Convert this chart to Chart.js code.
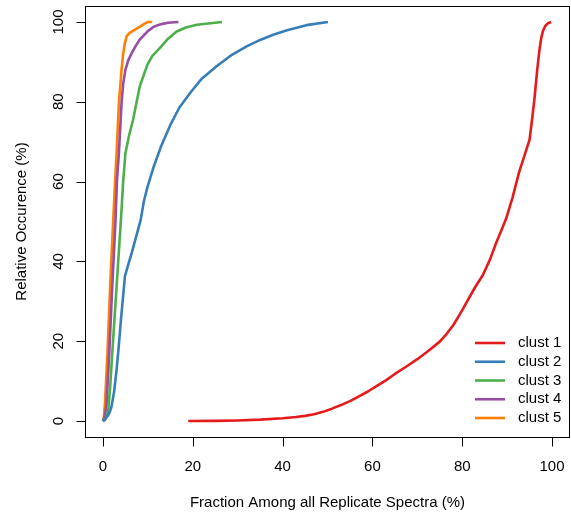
<!DOCTYPE html>
<html>
<head>
<meta charset="utf-8">
<script src="https://cdn.jsdelivr.net/npm/chart.js@4"></script>
<style>
  body { margin: 0; background: #fff; }
  #wrap { width: 571px; height: 519px; }
</style>
</head>
<body>
<div id="wrap"><canvas id="grafico" width="571" height="519"></canvas></div>
<script>
// cumulative curves, x = fraction (%), y = relative occurence (%)
const clust1X = [19, 25, 30, 35, 40, 43, 45, 47, 49, 51, 53, 55, 57, 59, 61, 63, 65, 67.5, 70, 72.5, 75, 76.5, 78, 79.5, 81, 82.8, 84.6, 86.2, 87.5, 88.8, 89.8, 91.2, 92.7, 94, 95, 95.6, 96.1, 96.7, 97.2, 97.6, 98, 98.5, 99.1, 99.8];
const clust1Y = [0, 0.05, 0.15, 0.35, 0.7, 1.0, 1.3, 1.7, 2.3, 3.1, 4, 5, 6.2, 7.4, 8.8, 10.2, 11.8, 13.6, 15.5, 17.6, 19.9, 21.8, 24, 26.8, 29.8, 33.4, 36.6, 40.5, 44.5, 48, 50.8, 56, 62.5, 67, 70.5, 76, 80.9, 88, 93, 96, 97.8, 99, 99.7, 100];

const clust2X = [0, 0.4, 1.0, 1.5, 1.9, 2.5, 3.03, 3.5, 4.0, 4.5, 4.9, 6.5, 8.4, 9.1, 9.9, 11.2, 13, 15, 17, 19.4, 22, 25.3, 28.5, 32, 35, 37.9, 41, 45.3, 50.1];
const clust2Y = [0, 0.3, 1.2, 2.2, 3.6, 7.5, 12.8, 18.5, 25.3, 31.5, 36.4, 42.5, 50.4, 55, 58.6, 63.4, 69, 74.2, 78.5, 82.2, 85.8, 88.9, 91.6, 93.9, 95.5, 96.8, 97.9, 99.2, 100];

const clust3X = [0, 0.5, 0.8, 1.18, 1.6, 2.07, 3.03, 4.0, 4.5, 5.0, 5.8, 6.7, 8.2, 9.9, 11, 12.7, 14.5, 16.4, 18.5, 20.9, 26.5];
const clust3Y = [0, 0.4, 1.2, 2.76, 8.5, 17, 33.7, 50.4, 60, 67.1, 71.5, 75.5, 83.9, 89.3, 91.5, 93.5, 95.8, 97.6, 98.6, 99.3, 100];

const clust4X = [0, 0.3, 0.55, 0.8, 1.4, 2.07, 2.8, 3.1, 3.55, 4.14, 4.5, 5.0, 5.6, 6.4, 7.3, 8.2, 10, 11.3, 12.7, 14.5, 16.8];
const clust4Y = [0, 0.8, 2, 4.4, 17, 33.7, 50.4, 60, 67.1, 79.7, 84.5, 88, 90.3, 92.2, 94, 95.6, 97.7, 98.8, 99.4, 99.8, 100];

const clust5X = [0, 0.2, 0.44, 1.0, 1.6, 2.29, 2.7, 3.03, 3.55, 4.14, 4.5, 4.88, 5.3, 6, 7.8, 9.3, 10, 10.9];
const clust5Y = [0, 0.8, 4.4, 17, 33.7, 50.4, 60, 67.1, 79.7, 88, 92, 94.7, 96.5, 97.3, 98.5, 99.6, 100, 100];

const etiquetas = ['clust 1', 'clust 2', 'clust 3', 'clust 4', 'clust 5'];
const colores = ['#E41A1C', '#377EB8', '#4DAF4A', '#984EA3', '#FF7F00'];
const marcas = [0, 20, 40, 60, 80, 100];

const seriesX = [clust1X, clust2X, clust3X, clust4X, clust5X];
const seriesY = [clust1Y, clust2Y, clust3Y, clust4Y, clust5Y];

const fuente = '15px "Liberation Sans", Arial, sans-serif';

function puntos(xs, ys) {
    return xs.map(function (x, i) { return { x: x, y: ys[i] }; });
}

// box, ticks, labels and legend in the style of base R graphics
const ejesR = {
    id: 'ejesR',
    afterDraw(chart) {
        const ctx = chart.ctx;
        const area = chart.chartArea;
        const sx = chart.scales.x;
        const sy = chart.scales.y;

        ctx.save();
        ctx.strokeStyle = '#000';
        ctx.lineWidth = 1;
        ctx.strokeRect(Math.round(area.left) + 0.5, Math.round(area.top) + 0.5,
            Math.round(area.right - area.left) - 1, Math.round(area.bottom - area.top));

        ctx.fillStyle = '#000';
        ctx.font = fuente;

        // x axis
        const yb = Math.round(area.bottom) + 0.5;
        ctx.beginPath();
        ctx.moveTo(sx.getPixelForValue(marcas[0]), yb);
        ctx.lineTo(sx.getPixelForValue(marcas[marcas.length - 1]), yb);
        marcas.forEach(function (m) {
            const px = Math.round(sx.getPixelForValue(m)) + 0.5;
            ctx.moveTo(px, yb);
            ctx.lineTo(px, yb + 9);
        });
        ctx.stroke();
        ctx.textAlign = 'center';
        ctx.textBaseline = 'middle';
        marcas.forEach(function (m) {
            ctx.fillText(String(m), sx.getPixelForValue(m), 467);
        });
        ctx.fillText('Fraction Among all Replicate Spectra (%)', (area.left + area.right) / 2, 503);

        // y axis
        const xl = Math.round(area.left) + 0.5;
        ctx.beginPath();
        ctx.moveTo(xl, sy.getPixelForValue(marcas[0]));
        ctx.lineTo(xl, sy.getPixelForValue(marcas[marcas.length - 1]));
        marcas.forEach(function (m) {
            const py = Math.round(sy.getPixelForValue(m)) + 0.5;
            ctx.moveTo(xl, py);
            ctx.lineTo(xl - 9, py);
        });
        ctx.stroke();
        marcas.forEach(function (m) {
            ctx.save();
            ctx.translate(59, sy.getPixelForValue(m));
            ctx.rotate(-Math.PI / 2);
            ctx.fillText(String(m), 0, 0);
            ctx.restore();
        });
        ctx.save();
        ctx.translate(22, (area.top + area.bottom) / 2);
        ctx.rotate(-Math.PI / 2);
        ctx.fillText('Relative Occurence (%)', 0, 0);
        ctx.restore();

        // legend, bottom right, no frame
        ctx.textAlign = 'left';
        chart.data.datasets.forEach(function (ds, i) {
            const y = 343 + i * 18.75;
            ctx.strokeStyle = ds.borderColor;
            ctx.lineWidth = 2.6;
            ctx.beginPath();
            ctx.moveTo(475, y);
            ctx.lineTo(505, y);
            ctx.stroke();
            ctx.fillText(ds.label, 518, y);
        });
        ctx.restore();
    }
};

const datasets = etiquetas.map(function (nombre, i) {
    return {
        label: nombre,
        data: puntos(seriesX[i], seriesY[i]),
        borderColor: colores[i],
        backgroundColor: colores[i],
        borderWidth: 2.6,
        pointRadius: 0,
        tension: 0,
        borderJoinStyle: 'round',
        fill: false
    };
});

const ctxGrafico = document.getElementById('grafico');
const graficoCurvas = new Chart(ctxGrafico, {
    type: 'line',
    data: { datasets: datasets },
    options: {
        responsive: false,
        animation: false,
        devicePixelRatio: 1,
        layout: { padding: { left: 85, top: 6, right: 1, bottom: 82 } },
        plugins: {
            legend: { display: false },
            tooltip: { enabled: false }
        },
        scales: {
            x: { type: 'linear', min: -4, max: 104, display: false },
            y: { type: 'linear', min: -4, max: 104, display: false }
        }
    },
    plugins: [ejesR]
});
</script>
</body>
</html>
